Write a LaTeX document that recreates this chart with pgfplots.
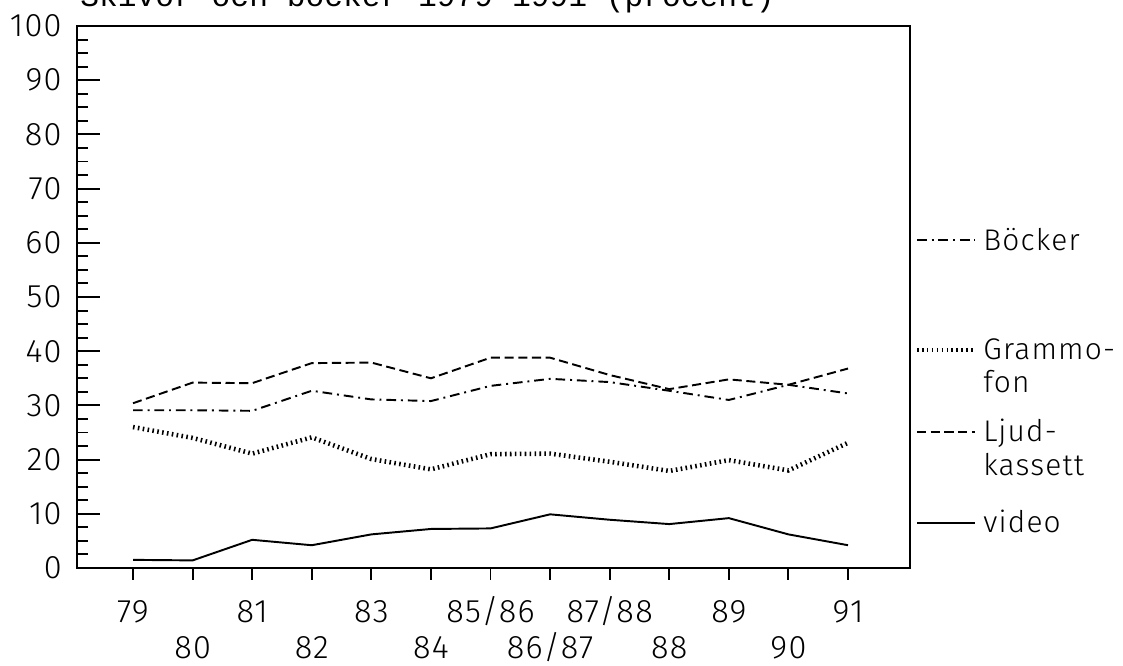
\documentclass[border=0pt]{standalone}
\usepackage{pgfplots}
\pgfplotsset{compat=1.18}
\usepackage{pgfplotstable}
\usepackage{fontspec}
\setmainfont{Fira Sans}[UprightFont=* Light, LetterSpace=4]
\newfontfamily\titlefont{Liberation Mono}

% andel (procent) per år, kolumn x = kategori 0..12
\pgfplotstableread{
x bocker ljud grammo video
0  29.1 30.4 26.0 1.5
1  29.1 34.2 24.0 1.4
2  29.0 34.1 21.1 5.2
3  32.7 37.8 24.1 4.2
4  31.1 37.9 20.1 6.2
5  30.8 35.0 18.2 7.2
6  33.6 38.8 21.0 7.3
7  34.9 38.8 21.1 9.9
8  34.3 35.6 19.6 8.9
9  32.7 33.0 17.9 8.1
10 31.0 34.8 19.9 9.2
11 33.8 33.8 18.0 6.2
12 32.2 36.8 23.1 4.2
}\data

\tikzset{
  bockerline/.style={black, line width=1.1pt, dash pattern=on 5.5pt off 2.8pt on 1.1pt off 2.8pt},
  ljudline/.style={black, line width=1.1pt, dash pattern=on 5.2pt off 2.6pt},
  grammoline/.style={black, line width=2.6pt, dash pattern=on 0.9pt off 1.9pt},
  videoline/.style={black, line width=1.1pt},
  legtext/.style={anchor=base west, inner sep=0pt, font=\fontsize{17}{20}\selectfont},
}

\begin{document}
\begin{tikzpicture}[font=\fontsize{18.5}{22}\selectfont]
\pgfplotsset{
  base/.style={
    scale only axis, width=16.66cm, height=10.84cm,
    xmin=-0.94, xmax=13.04, ymin=0, ymax=100,
  },
}
% data, ram och x-ticks
\begin{axis}[
  base,
  axis line style={line width=1.4pt},
  xtick={0,...,12}, xtick pos=left,
  tick align=outside, major tick length=0.24cm,
  x tick style={line width=1.1pt, black},
  xticklabels={79,\raisebox{-0.72cm}{80},81,\raisebox{-0.72cm}{82},83,\raisebox{-0.72cm}{84},
    85/86,\raisebox{-0.72cm}{86/87},87/88,\raisebox{-0.72cm}{88},89,\raisebox{-0.72cm}{90},91},
  x tick label style={anchor=base, yshift=-0.86cm, inner sep=0pt},
  ytick=\empty,
]
\addplot[bockerline] table[x=x, y=bocker] {\data};
\addplot[ljudline] table[x=x, y=ljud] {\data};
\addplot[grammoline] table[x=x, y=grammo] {\data};
\addplot[videoline] table[x=x, y=video] {\data};
\end{axis}
% y-ticks (inat)
\begin{axis}[
  base,
  axis line style={draw=none},
  xtick=\empty,
  ytick={0,10,...,100}, ytick pos=left,
  tick align=inside, major tick length=0.45cm, minor tick length=0.22cm,
  minor y tick num=3,
  y tick style={line width=1.1pt, black},
  yticklabel style={inner sep=0pt, xshift=-0.3cm},
  /pgf/number format/assume math mode=true,
]
\end{axis}

% rubrik (avskuren upptill som i originalet)
\node[anchor=base west, inner sep=0pt, font=\titlefont\fontsize{17.8}{20}\selectfont]
  at (0.06cm,11.22cm) {Skivor och böcker 1979-1991 (procent)};

% förklaring
\draw[bockerline] (16.8cm,6.56cm) -- (17.96cm,6.56cm);
\node[legtext] at (18.12cm,6.35cm) {Böcker};
\draw[grammoline] (16.8cm,4.36cm) -- (17.96cm,4.36cm);
\node[legtext] at (18.12cm,4.16cm) {Grammo-};
\node[legtext] at (18.12cm,3.50cm) {fon};
\draw[ljudline] (16.8cm,2.72cm) -- (17.96cm,2.72cm);
\node[legtext] at (18.12cm,2.52cm) {Ljud-};
\node[legtext] at (18.12cm,1.84cm) {kassett};
\draw[videoline] (16.8cm,0.9cm) -- (17.96cm,0.9cm);
\node[legtext] at (18.12cm,0.70cm) {video};

\pgfresetboundingbox
\path[use as bounding box] (-1.54cm,-1.96cm) rectangle (20.92cm,11.36cm);
\end{tikzpicture}
\end{document}
